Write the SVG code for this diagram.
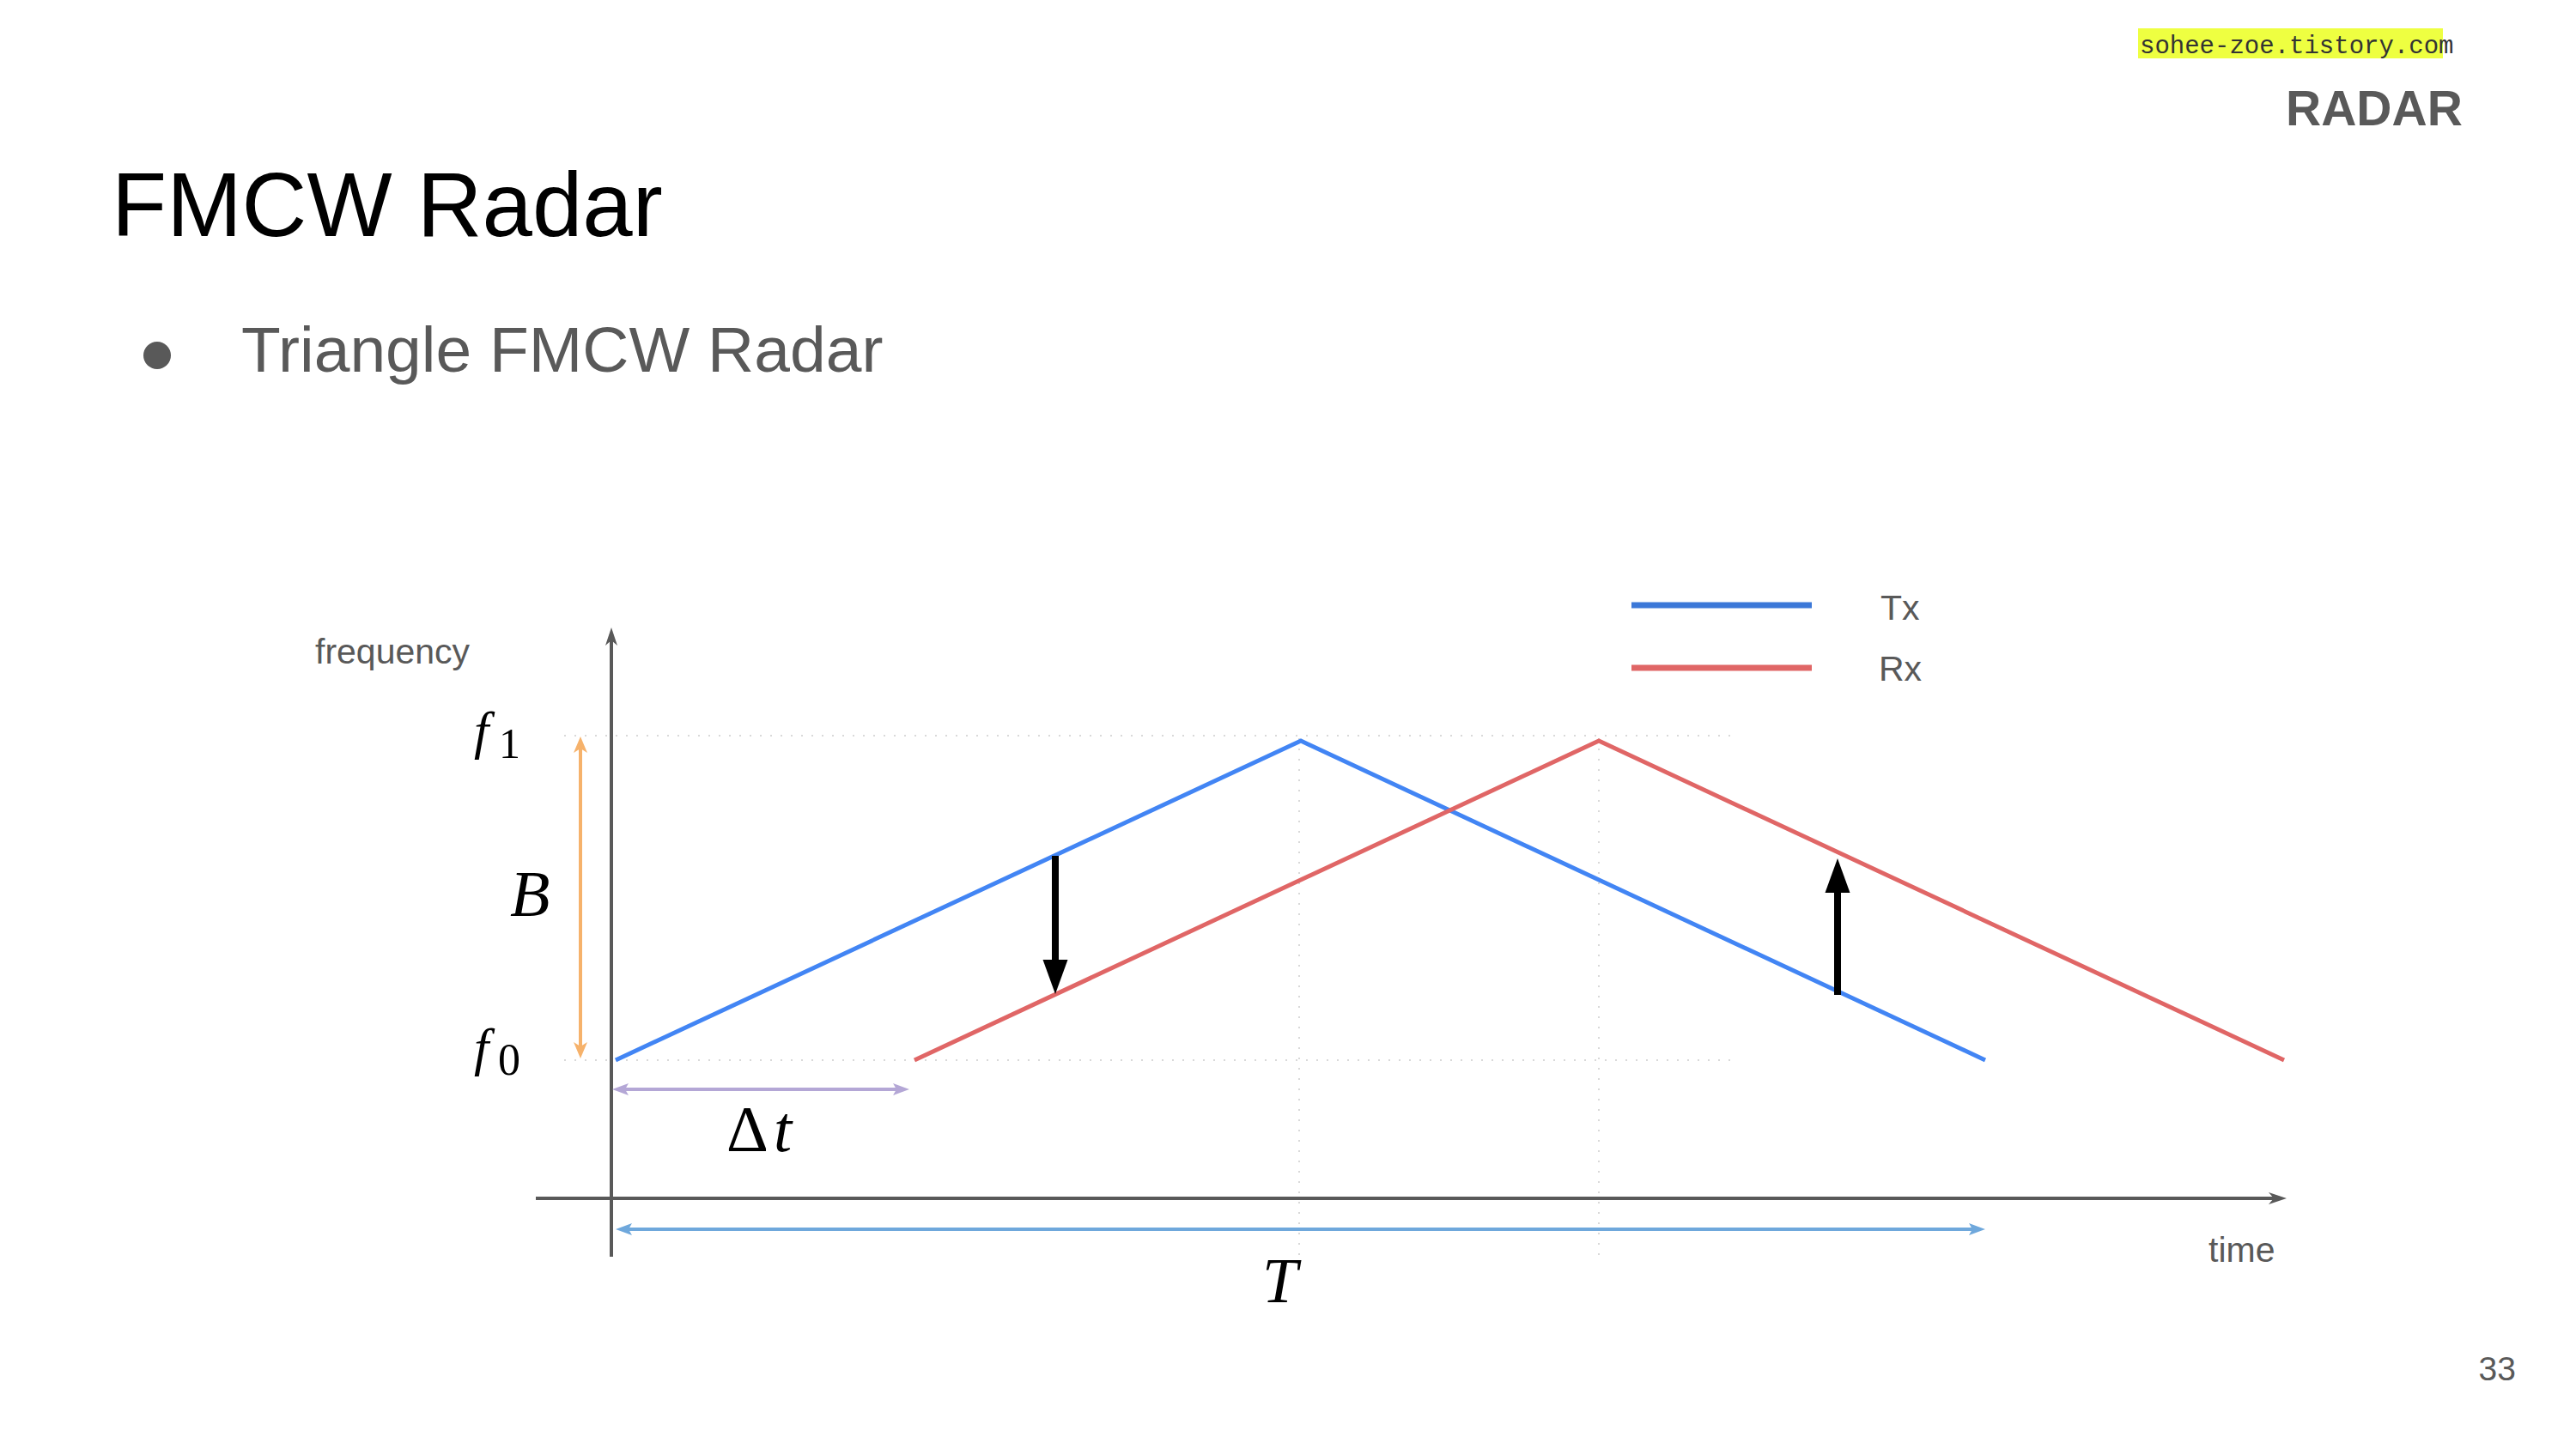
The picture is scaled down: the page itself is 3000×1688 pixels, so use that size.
<svg xmlns="http://www.w3.org/2000/svg" width="3000" height="1688" viewBox="0 0 3000 1688">
  <style>
    .sans { font-family: "Liberation Sans", Arial, sans-serif; }
    .gray { fill: #595959; }
    .math { font-family: "Liberation Serif", "Times New Roman", serif; fill: #000; }
    .grid { stroke: #d9d9d9; stroke-width: 2; stroke-dasharray: 2 10; fill: none; }
    .axis { stroke: #595959; stroke-width: 4; fill: none; }
    .tx { stroke: #4285F4; stroke-width: 5; fill: none; stroke-linejoin: miter; }
    .rx { stroke: #E06666; stroke-width: 5; fill: none; stroke-linejoin: miter; }
  </style>
  <defs>
    <marker id="axisHead" markerUnits="userSpaceOnUse" viewBox="-22 -10 24 20" markerWidth="24" markerHeight="20" refX="-10" refY="0" orient="auto-start-reverse">
      <path d="M -21,-7 L 0,0 L -21,7 L -15,0 Z" fill="#595959"/>
    </marker>
    <marker id="orangeHead" markerUnits="userSpaceOnUse" viewBox="-22 -10 24 20" markerWidth="24" markerHeight="20" refX="-10" refY="0" orient="auto-start-reverse">
      <path d="M -19,-8 L 0,0 L -19,8 L -14,0 Z" fill="#F6B26B"/>
    </marker>
    <marker id="purpleHead" markerUnits="userSpaceOnUse" viewBox="-22 -10 24 20" markerWidth="24" markerHeight="20" refX="-10" refY="0" orient="auto-start-reverse">
      <path d="M -19,-7 L 0,0 L -19,7 L -15,0 Z" fill="#B4A7D6"/>
    </marker>
    <marker id="blueHead" markerUnits="userSpaceOnUse" viewBox="-22 -10 24 20" markerWidth="24" markerHeight="20" refX="-10" refY="0" orient="auto-start-reverse">
      <path d="M -19,-7 L 0,0 L -19,7 L -15,0 Z" fill="#6FA8DC"/>
    </marker>
    <marker id="blackHead" markerUnits="userSpaceOnUse" viewBox="-42 -16 44 32" markerWidth="44" markerHeight="32" refX="-38" refY="0" orient="auto">
      <path d="M -40,-14.5 L 0,0 L -40,14.5 Z" fill="#000"/>
    </marker>
  </defs>

  <rect width="3000" height="1688" fill="#ffffff"/>

  <g id="watermark">
    <rect x="2490" y="33" width="355" height="35" fill="#EEFF41"/>
    <text x="2492" y="62" font-family="'Liberation Mono', 'Courier New', monospace" font-size="29" fill="#333">sohee-zoe.tistory.com</text>
  </g>

  <g id="section-label">
    <text x="2662" y="146" class="sans gray" font-size="57" font-weight="bold">RADAR</text>
  </g>

  <g id="title">
    <text x="130" y="275" class="sans" font-size="105" fill="#000">FMCW Radar</text>
  </g>

  <g id="bullet">
    <circle cx="183" cy="414" r="16" fill="#595959"/>
    <text x="281" y="433" class="sans gray" font-size="75">Triangle FMCW Radar</text>
  </g>

  <g id="page-number">
    <text x="2930" y="1608" class="sans gray" font-size="39" text-anchor="end">33</text>
  </g>

  <g id="gridlines">
    <line class="grid" x1="657" y1="857" x2="2018" y2="857"/>
    <line class="grid" x1="657" y1="1235" x2="2018" y2="1235"/>
    <line class="grid" x1="1513" y1="860" x2="1513" y2="1465"/>
    <line class="grid" x1="1862" y1="860" x2="1862" y2="1465"/>
  </g>

  <g id="axes">
    <line class="axis" x1="712" y1="1464" x2="712" y2="741" marker-end="url(#axisHead)"/>
    <line class="axis" x1="624" y1="1396" x2="2653" y2="1396" marker-end="url(#axisHead)"/>
    <text x="367" y="773" class="sans gray" font-size="41">frequency</text>
    <text x="2572" y="1470" class="sans gray" font-size="41">time</text>
  </g>

  <g id="tx-signal">
    <polyline class="tx" points="717,1235 1515,863 2312,1235"/>
  </g>
  <g id="rx-signal">
    <polyline class="rx" points="1065,1235 1862,863 2660,1235"/>
  </g>

  <g id="legend">
    <line x1="1900" y1="705" x2="2110" y2="705" stroke="#3C78D8" stroke-width="7"/>
    <line x1="1900" y1="778" x2="2110" y2="778" stroke="#E06666" stroke-width="7"/>
    <text x="2190" y="722" class="sans gray" font-size="41">Tx</text>
    <text x="2188" y="793" class="sans gray" font-size="41">Rx</text>
  </g>

  <g id="labels">
    <text class="math" x="552" y="872" font-size="62" font-style="italic">f</text>
    <text class="math" x="581" y="883" font-size="50">1</text>
    <text class="math" x="552" y="1241" font-size="62" font-style="italic">f</text>
    <text class="math" x="580" y="1252" font-size="52">0</text>
    <text class="math" x="594" y="1067" font-size="76" font-style="italic">B</text>
    <text class="math" x="846" y="1341" font-size="76">Δ<tspan font-style="italic" dx="6">t</tspan></text>
    <text class="math" x="1470" y="1517" font-size="74" font-style="italic">T</text>
  </g>

  <g id="connectors">
    <line x1="676" y1="868" x2="676" y2="1223" stroke="#F6B26B" stroke-width="4" marker-start="url(#orangeHead)" marker-end="url(#orangeHead)"/>
    <line x1="723" y1="1269" x2="1049" y2="1269" stroke="#B4A7D6" stroke-width="4" marker-start="url(#purpleHead)" marker-end="url(#purpleHead)"/>
    <line x1="727" y1="1432" x2="2302" y2="1432" stroke="#6FA8DC" stroke-width="4" marker-start="url(#blueHead)" marker-end="url(#blueHead)"/>
    <line x1="1229" y1="997" x2="1229" y2="1120" stroke="#000" stroke-width="8" marker-end="url(#blackHead)"/>
    <line x1="2140" y1="1159" x2="2140" y2="1038" stroke="#000" stroke-width="8" marker-end="url(#blackHead)"/>
  </g>
</svg>
